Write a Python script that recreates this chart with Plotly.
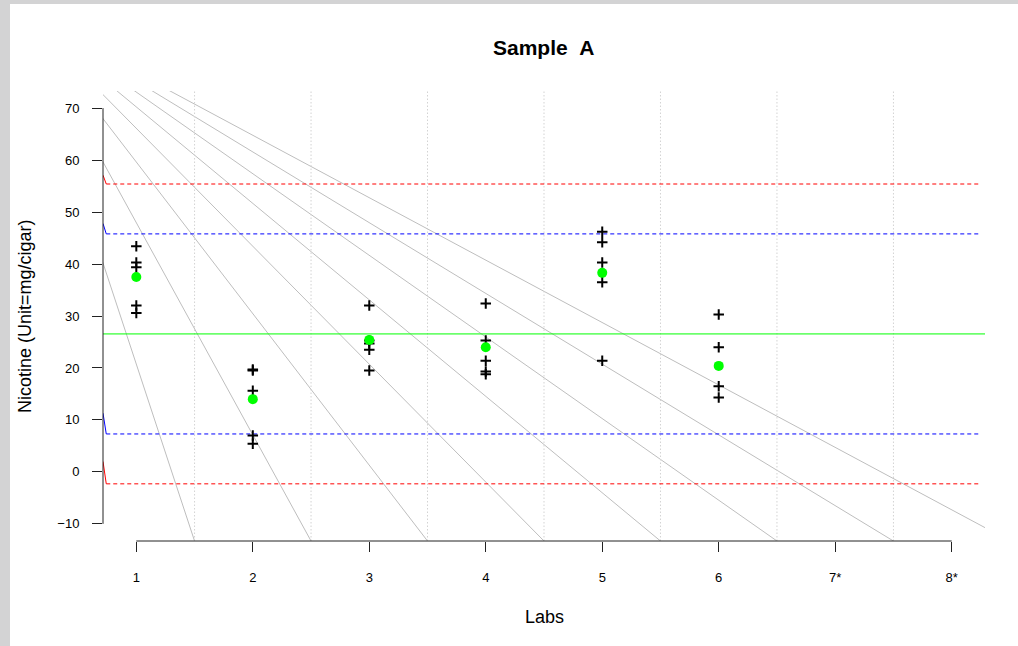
import plotly.graph_objects as go

# ---------------- data ----------------
lab_positions = [1, 2, 3, 4, 5, 6]
lab1_values = [43.4, 40.3, 39.4, 32.0, 30.6]
lab2_values = [19.7, 19.5, 15.6, 7.0, 5.4]
lab3_values = [32.0, 25.3, 24.7, 23.5, 19.5]
lab4_values = [32.4, 25.3, 21.4, 19.3, 18.8]
lab5_values = [46.2, 44.2, 40.3, 36.5, 21.4]
lab6_values = [30.3, 24.0, 16.5, 14.3]
lab_means = [37.5, 14.0, 25.4, 24.0, 38.3, 20.4]

grand_mean = 26.55
limit_levels = [55.4, 45.8, 7.3, -2.3]          # upper red, upper blue, lower blue, lower red
limit_start_values = [57.1, 47.8, 11.3, 2.0]    # short lead-in segments at left edge
limit_colors = ["#ff0000", "#0000ff", "#0000ff", "#ff0000"]

x_tick_values = [1, 2, 3, 4, 5, 6, 7, 8]
x_tick_labels = ["1", "2", "3", "4", "5", "6", "7*", "8*"]
y_tick_values = [-10, 0, 10, 20, 30, 40, 50, 60, 70]
separator_positions = [1.5, 2.5, 3.5, 4.5, 5.5, 6.5, 7.5]

fan_apex = (0.0, 88.8)
fan_end_x = [1.5, 2.5, 3.5, 4.5, 5.5, 6.5, 7.5, 8.5]

x_range = [0.714, 8.286]
y_range = [-13.3, 73.3]

FONT = "Liberation Sans, Arial, Helvetica, sans-serif"

fig = go.Figure()

# gray fan lines
for ex in fan_end_x:
    fig.add_trace(go.Scatter(x=[fan_apex[0], ex], y=[fan_apex[1], y_range[0]],
                             mode="lines", line=dict(color="#bebebe", width=1),
                             hoverinfo="skip", showlegend=False))

# dotted separators
for sx in separator_positions:
    fig.add_trace(go.Scatter(x=[sx, sx], y=y_range, mode="lines",
                             line=dict(color="#d3d3d3", width=1, dash="1.5px,2px"),
                             hoverinfo="skip", showlegend=False))

# limit lines
for lvl, start, col in zip(limit_levels, limit_start_values, limit_colors):
    fig.add_trace(go.Scatter(x=[x_range[0], 0.742], y=[start, lvl], mode="lines",
                             line=dict(color=col, width=1), hoverinfo="skip", showlegend=False))
    fig.add_trace(go.Scatter(x=[0.742, 8.24], y=[lvl, lvl], mode="lines",
                             line=dict(color=col, width=1, dash="4px,3px"),
                             hoverinfo="skip", showlegend=False))

# grand mean
fig.add_trace(go.Scatter(x=x_range, y=[grand_mean, grand_mean], mode="lines",
                         line=dict(color="#00ff00", width=1), hoverinfo="skip", showlegend=False))

# individual values
all_labs = [lab1_values, lab2_values, lab3_values, lab4_values, lab5_values, lab6_values]
px, py = [], []
for pos, vals in zip(lab_positions, all_labs):
    for v in vals:
        px.append(pos)
        py.append(v)
fig.add_trace(go.Scatter(x=px, y=py, mode="markers",
                         marker=dict(symbol="cross-thin", size=7.5, color="black",
                                     line=dict(color="black", width=2)),
                         showlegend=False))

# lab means
fig.add_trace(go.Scatter(x=lab_positions, y=lab_means, mode="markers",
                         marker=dict(symbol="circle", size=10, color="#00ff00",
                                     line=dict(width=0)),
                         showlegend=False))

shapes = [
    # white page over gray frame
    dict(type="rect", xref="paper", yref="paper",
         x0=(10 - 103) / 882, x1=(1030 - 103) / 882,
         y0=(541 - 660) / 450, y1=(541 - 4) / 450,
         fillcolor="white", line=dict(width=0), layer="below"),
    # y axis line (between first and last tick)
    dict(type="line", xref="paper", yref="y", x0=0, x1=0,
         y0=y_tick_values[0], y1=y_tick_values[-1],
         line=dict(color="#222222", width=1)),
    # x axis line
    dict(type="line", xref="x", yref="paper", x0=x_tick_values[0], x1=x_tick_values[-1],
         y0=0, y1=0, line=dict(color="#222222", width=1)),
]

fig.update_layout(
    width=1018, height=646,
    margin=dict(l=103, r=33, t=91, b=105),
    paper_bgcolor="#d3d3d4", plot_bgcolor="rgba(0,0,0,0)",
    font=dict(family=FONT, color="black"),
    shapes=shapes,
    hovermode=False,
    xaxis=dict(range=x_range, showgrid=False, zeroline=False, showline=False,
               tickmode="array", tickvals=x_tick_values, ticktext=x_tick_labels,
               ticks="outside", ticklen=10, tickcolor="#222222", tickwidth=1,
               tickfont=dict(size=13, family=FONT), ticklabelstandoff=14),
    yaxis=dict(range=y_range, showgrid=False, zeroline=False, showline=False,
               tickmode="array", tickvals=y_tick_values,
               ticks="outside", ticklen=10, tickcolor="#222222", tickwidth=1,
               tickfont=dict(size=13, family=FONT), ticklabelstandoff=10),
    annotations=[
        dict(text="<b>Sample\u00a0\u00a0A</b>", xref="paper", yref="paper",
             x=0.5, y=(541 - 48) / 450, xanchor="center", yanchor="middle",
             showarrow=False, font=dict(size=21, family=FONT)),
        dict(text="Labs", xref="paper", yref="paper",
             x=0.5, y=(541 - 617) / 450, xanchor="center", yanchor="middle",
             showarrow=False, font=dict(size=18, family=FONT)),
        dict(text="Nicotine (Unit=mg/cigar)", xref="paper", yref="paper",
             x=(25 - 103) / 882, y=0.5, xanchor="center", yanchor="middle",
             textangle=-90, showarrow=False, font=dict(size=18, family=FONT)),
    ],
)

fig.write_html(
    "out.html",
    config={"displayModeBar": False, "staticPlot": True},
    post_script="document.body.style.margin='0';document.body.style.overflow='hidden';",
)
